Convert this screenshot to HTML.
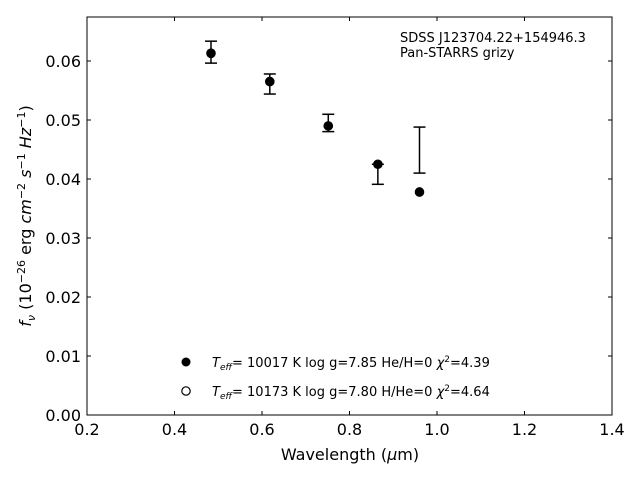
<!DOCTYPE html>
<html><head><meta charset="utf-8"><style>
body{margin:0;background:#fff}
svg text{font-family:"DejaVu Sans","Liberation Sans",sans-serif;fill:#000}
</style></head><body>
<svg id="chart" width="640" height="480" viewBox="0 0 640 480" xmlns="http://www.w3.org/2000/svg">
<rect x="87" y="17" width="525" height="398" fill="#fff" stroke="#000" stroke-width="1"/>
<g id="ticks"></g>
<g id="marks"></g>
<text x="350" y="460" font-size="16" text-anchor="middle">Wavelength (<tspan font-style="italic">μ</tspan>m)</text>
<text transform="translate(31,216) rotate(-90)" font-size="16" text-anchor="middle"><tspan font-style="italic">f</tspan><tspan font-style="italic" font-size="11" dy="4">ν</tspan><tspan dy="-4"> (10</tspan><tspan font-size="11" dy="-6">−26</tspan><tspan dy="6"> erg </tspan><tspan font-style="italic">cm</tspan><tspan font-size="11" dy="-6">−2</tspan><tspan dy="6"> </tspan><tspan font-style="italic">s</tspan><tspan font-size="11" dy="-6">−1</tspan><tspan dy="6"> </tspan><tspan font-style="italic">Hz</tspan><tspan font-size="11" dy="-6">−1</tspan><tspan dy="6">)</tspan></text>
<text x="400" y="42" font-size="13">SDSS J123704.22+154946.3</text>
<text x="400" y="57" font-size="13">Pan-STARRS grizy</text>
<g>
<circle cx="186" cy="362" r="4.5" fill="#000"/>
<text x="212" y="367" font-size="13"><tspan font-style="italic">T</tspan><tspan font-style="italic" font-size="9" dy="3">eff</tspan><tspan dy="-3">= 10017 K  log g=7.85  He/H=0  </tspan><tspan font-style="italic">χ</tspan><tspan font-size="9" dy="-5">2</tspan><tspan dy="5">=4.39</tspan></text>
<circle cx="186" cy="391" r="4.2" fill="#fff" stroke="#000" stroke-width="1.2"/>
<text x="212" y="396" font-size="13"><tspan font-style="italic">T</tspan><tspan font-style="italic" font-size="9" dy="3">eff</tspan><tspan dy="-3">= 10173 K  log g=7.80  H/He=0  </tspan><tspan font-style="italic">χ</tspan><tspan font-size="9" dy="-5">2</tspan><tspan dy="5">=4.64</tspan></text>
</g>
</svg>
<script>
const wavelengths=[0.4834,0.6178,0.7515,0.8648,0.9600];
const observedFlux=[0.0615,0.0561,0.0495,0.0408,0.0449];
const observedErr=[0.00186,0.0017,0.00147,0.0017,0.0039];
const modelHe=[0.06136,0.05658,0.04898,0.04249,0.03775];
const modelH=[0.06130,0.05650,0.04900,0.04250,0.03780];
const xTicks=[0.2,0.4,0.6,0.8,1.0,1.2,1.4];
const xTickLabels=["0.2","0.4","0.6","0.8","1.0","1.2","1.4"];
const yTicks=[0,0.01,0.02,0.03,0.04,0.05,0.06];
const yTickLabels=["0.00","0.01","0.02","0.03","0.04","0.05","0.06"];
const NS="http://www.w3.org/2000/svg";
const X=v=>87+(v-0.2)/1.2*525;
const Y=v=>415-v/0.01*59;
function mk(tag,attrs,parent){const e=document.createElementNS(NS,tag);for(const k in attrs)e.setAttribute(k,attrs[k]);parent.appendChild(e);return e;}
const ticks=document.getElementById('ticks'),marks=document.getElementById('marks');
xTicks.forEach((t,i)=>{const x=X(t);
 let a=mk('line',{x1:x,x2:x,y1:415,y2:411,stroke:'#000'},ticks);
 
 let b=mk('line',{x1:x,x2:x,y1:17,y2:21,stroke:'#000'},ticks);
 
 let l=mk('text',{x:x,y:435,'font-size':16,'text-anchor':'middle'},ticks);l.textContent=xTickLabels[i];
 });
yTicks.forEach((t,i)=>{const y=Y(t);
 let a=mk('line',{x1:87,x2:91,y1:y,y2:y,stroke:'#000'},ticks);
 
 let b=mk('line',{x1:608,x2:612,y1:y,y2:y,stroke:'#000'},ticks);
 
 let l=mk('text',{x:81,y:y+6,'font-size':16,'text-anchor':'end'},ticks);l.textContent=yTickLabels[i];
 });
wavelengths.forEach((w,i)=>{const x=X(w);
 const y1=Y(observedFlux[i]+observedErr[i]),y2=Y(observedFlux[i]-observedErr[i]);
 const g=mk('g',{stroke:'#000','stroke-width':1.5},marks);
 
 mk('line',{x1:x,x2:x,y1:y1,y2:y2},g);mk('line',{x1:x-6,x2:x+6,y1:y1,y2:y1},g);mk('line',{x1:x-6,x2:x+6,y1:y2,y2:y2},g);
 const o=mk('circle',{cx:x,cy:Y(modelH[i]),r:4.2,fill:'#fff',stroke:'#000','stroke-width':1.2},marks);
 
 const c=mk('circle',{cx:x,cy:Y(modelHe[i]),r:4.5,fill:'#000'},marks);
 });
</script>
</body></html>
